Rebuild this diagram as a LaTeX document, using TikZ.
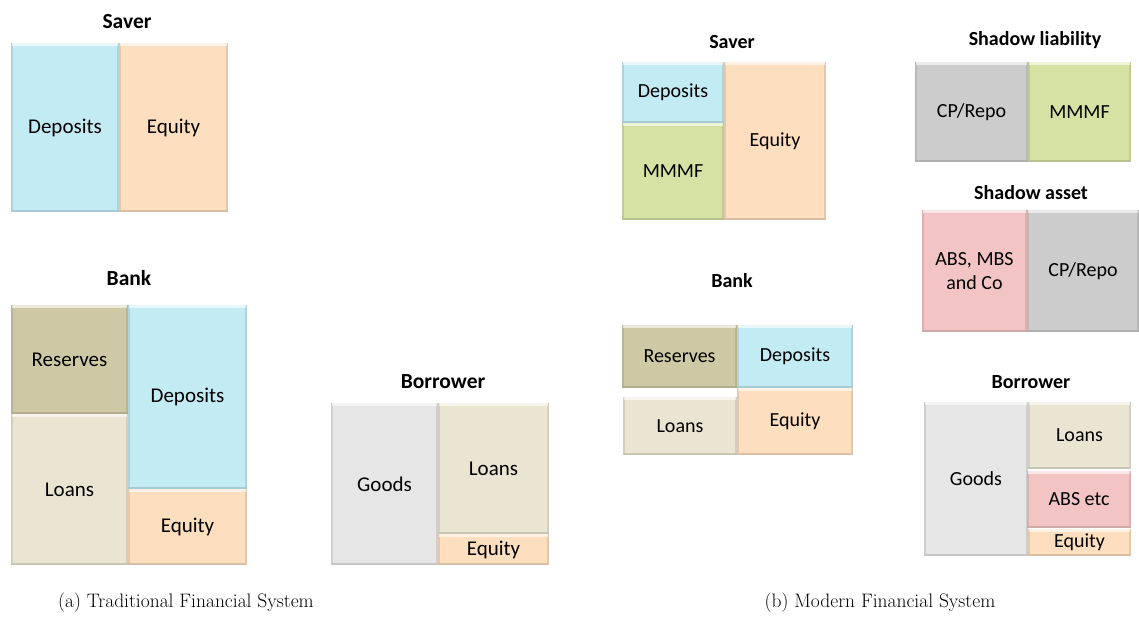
\documentclass[tikz,border=0pt]{standalone}
\usepackage{fontspec}
\setsansfont{Carlito}
\definecolor{cDep}{RGB}{195,235,244}
\definecolor{cEq}{RGB}{253,222,191}
\definecolor{cRes}{RGB}{206,201,164}
\definecolor{cLoan}{RGB}{234,229,210}
\definecolor{cGood}{RGB}{230,230,230}
\definecolor{cMM}{RGB}{213,226,164}
\definecolor{cCP}{RGB}{204,204,204}
\definecolor{cABS}{RGB}{242,196,196}
% bevelled block: name, x1, y1, x2, y2, colour, label
\newcommand\blk[7]{%
  \fill[#6] (#2,#3) rectangle (#4,#5);
  \fill[#6!90!black] (#2,#3) rectangle (#2+2,#5);
  \fill[#6!90!black] (#4-2,#3) rectangle (#4,#5);
  \fill[#6!86!black] (#2,#5-2) rectangle (#4,#5);
  \fill[white,opacity=.6] (#2+1,#3) rectangle (#4-1,#3+3);
  \node[lbl] (#1) at ({(#2+#4)/2},{(#3+#5)/2}) {#7};
}
\tikzset{
  lbl/.style={font=\sffamily\fontsize{21}{23}\selectfont, align=center, text=black},
  ttl/.style={font=\sffamily\bfseries\fontsize{21.5}{25}\selectfont},
  ttls/.style={font=\sffamily\bfseries\fontsize{20}{24}\selectfont},
  captext/.style={font=\fontsize{19.5}{23}\selectfont}
}
\begin{document}
\begin{tikzpicture}[x=1pt,y=-1pt]
\useasboundingbox (0,0) rectangle (1139,628);
\fill[white] (0,0) rectangle (1139,628);

% ---- (a) traditional system
\node[ttl] (tSaver) at (127,22) {Saver};
\blk{tsDep}{11}{43}{119}{212}{cDep}{Deposits}
\blk{tsEq}{119}{43}{228}{212}{cEq}{Equity}

\node[ttl] (tBank) at (129,278) {Bank};
\blk{tbRes}{11}{305}{128}{414}{cRes}{Reserves}
\blk{tbLoan}{11}{414}{128}{565}{cLoan}{Loans}
\blk{tbDep}{128}{305}{247}{489}{cDep}{Deposits}
\blk{tbEq}{128}{489}{247}{565}{cEq}{Equity}

\node[ttl] (tBorr) at (443,382) {Borrower};
\blk{trGood}{331}{403}{438}{565}{cGood}{Goods}
\blk{trLoan}{438}{403}{549}{534}{cLoan}{Loans}
\blk{trEq}{438}{534}{549}{565}{cEq}{Equity}

\node[captext] (capA) at (186,603) {(a) Traditional Financial System};

% ---- (b) modern system
\tikzset{lbl/.style={font=\sffamily\fontsize{20}{24}\selectfont, align=center, text=black}}
\node[ttls] (mSaver) at (732,42) {Saver};
\blk{msDep}{622}{62}{724}{123}{cDep}{Deposits}
\blk{msMM}{622}{123}{724}{220}{cMM}{MMMF}
\blk{msEq}{724}{62}{826}{220}{cEq}{Equity}

\node[ttls] (mBank) at (732,281) {Bank};
\blk{mbRes}{622}{325}{737}{388}{cRes}{Reserves}
\blk{mbDep}{737}{325}{853}{388}{cDep}{Deposits}
\blk{mbLoan}{623}{397}{737}{455}{cLoan}{Loans}
\blk{mbEq}{737}{388}{853}{455}{cEq}{Equity}

\node[ttls] (mSL) at (1035,40) {Shadow liability};
\blk{slCP}{915}{62}{1028}{162}{cCP}{CP/Repo}
\blk{slMM}{1028}{62}{1131}{162}{cMM}{MMMF}

\node[ttls] (mSA) at (1031,193) {Shadow asset};
\blk{saABS}{922}{210}{1027}{332}{cABS}{ABS, MBS\\and Co}
\blk{saCP}{1027}{210}{1139}{332}{cCP}{CP/Repo}

\node[ttls] (mBorr) at (1031,382) {Borrower};
\blk{mrGood}{924}{402}{1028}{556}{cGood}{Goods}
\blk{mrLoan}{1028}{402}{1131}{469}{cLoan}{Loans}
\blk{mrABS}{1027}{471}{1131}{528}{cABS}{ABS etc}
\blk{mrEq}{1028}{529}{1131}{556}{cEq}{Equity}

\node[captext] (capB) at (880,603) {(b) Modern Financial System};
\end{tikzpicture}
\end{document}
